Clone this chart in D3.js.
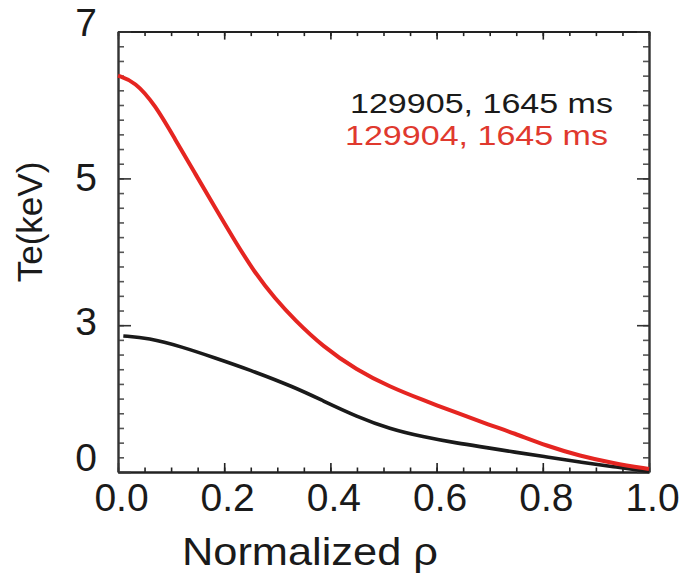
<!DOCTYPE html>
<html>
<head>
<meta charset="utf-8">
<script src="https://cdn.jsdelivr.net/npm/d3@7"></script>
<style>
  body { margin: 0; background: #fff; }
  text { font-family: "Liberation Sans", Arial, Helvetica, sans-serif; }
</style>
</head>
<body>
<div id="chart"></div>
<script>
// Te profiles
var rho_black = [0.01, 0.057, 0.12, 0.183, 0.245, 0.333, 0.385, 0.45, 0.512, 0.574, 0.638, 0.70, 0.744, 0.808, 0.87, 0.932, 1.0];
var te_black  = [2.78, 2.74, 2.56, 2.33, 2.10, 1.73, 1.46, 1.13, 0.88, 0.72, 0.59, 0.49, 0.41, 0.31, 0.20, 0.11, 0.01];

var rho_red = [0.0, 0.032, 0.07, 0.107, 0.145, 0.183, 0.22, 0.258, 0.296, 0.333, 0.385, 0.45, 0.512, 0.574, 0.638, 0.70, 0.744, 0.808, 0.87, 0.932, 1.0];
var te_red  = [6.40, 6.32, 6.00, 5.54, 5.07, 4.60, 4.15, 3.71, 3.36, 3.07, 2.57, 2.08, 1.74, 1.47, 1.21, 0.96, 0.80, 0.53, 0.33, 0.18, 0.06];

var x_ticks = [0.0, 0.2, 0.4, 0.6, 0.8, 1.0];
var y_ticks = [0, 3, 5, 7];
var legend_labels = ["129905, 1645 ms", "129904, 1645 ms"];
var x_title = "Normalized \u03c1";
var y_title = "Te(keV)";

var width = 687, height = 578;
var plot_left = 118, plot_right = 649, plot_top = 31.6, plot_bottom = 472;
var col_black = "#1a1a1a", col_red = "#e52521", col_red_text = "#e0392e";

var svg = d3.select("#chart").append("svg")
            .attr("width", width)
            .attr("height", height);

var x = d3.scaleLinear().domain([0, 1]).range([plot_left, plot_right]);
// the printed y axis is not uniform: 0-3 takes the same room as 3-5 and 5-7
var y = d3.scaleLinear().domain(y_ticks)
          .range([plot_bottom, 325.2, 178.4, plot_top]);

var x_minor = d3.range(0, 1.0001, 0.05);
var y_minor = d3.range(0, 2.95, 0.3).concat(d3.range(3, 6.95, 0.2));

function styleAxis(g, col){
	g.select(".domain").attr("stroke", col).attr("stroke-width", 2);
	g.selectAll(".tick line").attr("stroke", col).attr("stroke-width", 1.6);
	g.selectAll("text").attr("font-size", 39).attr("fill", "#1a1a1a")
	 .style("font-family", "'Liberation Sans', Arial, sans-serif");
}

function drawAxes(){
	// bottom
	svg.append("g").attr("transform", "translate(0," + plot_bottom + ")")
	   .call(d3.axisBottom(x).tickValues(x_minor).tickSize(-4.5).tickSizeOuter(0).tickFormat(""))
	   .call(styleAxis, "#222");
	svg.append("g").attr("transform", "translate(0," + plot_bottom + ")")
	   .call(d3.axisBottom(x).tickValues(x_ticks).tickSize(-9).tickSizeOuter(0).tickPadding(11).tickFormat(d3.format(".1f")))
	   .call(styleAxis, "#222")
	   .selectAll("text").attr("dx", 3);
	// top
	svg.append("g").attr("transform", "translate(0," + plot_top + ")")
	   .call(d3.axisTop(x).tickValues(x_minor).tickSize(-4.5).tickSizeOuter(0).tickFormat(""))
	   .call(styleAxis, "#222");
	svg.append("g").attr("transform", "translate(0," + plot_top + ")")
	   .call(d3.axisTop(x).tickValues(x_ticks).tickSize(-8).tickSizeOuter(0).tickFormat(""))
	   .call(styleAxis, "#222");
	// left
	svg.append("g").attr("transform", "translate(" + plot_left + ",0)")
	   .call(d3.axisLeft(y).tickValues(y_minor).tickSize(-6).tickSizeOuter(0).tickFormat(""))
	   .call(styleAxis, "#555");
	svg.append("g").attr("transform", "translate(" + plot_left + ",0)")
	   .call(d3.axisLeft(y).tickValues(y_ticks).tickSize(-13).tickSizeOuter(0).tickPadding(21).tickFormat(d3.format("d")))
	   .call(styleAxis, "#333")
	   .selectAll("text")
	   .attr("y", function(d){ return d == 7 ? -9 : (d == 0 ? -14 : (d == 3 ? -3 : 0)); });
	// right
	svg.append("g").attr("transform", "translate(" + plot_right + ",0)")
	   .call(d3.axisRight(y).tickValues(y_minor).tickSize(-6).tickSizeOuter(0).tickFormat(""))
	   .call(styleAxis, "#555");
	svg.append("g").attr("transform", "translate(" + plot_right + ",0)")
	   .call(d3.axisRight(y).tickValues(y_ticks).tickSize(-12).tickSizeOuter(0).tickFormat(""))
	   .call(styleAxis, "#333");
}

function drawCurves(){
	var line = d3.line()
	             .x(function(d){ return x(d[0]); })
	             .y(function(d){ return y(d[1]); })
	             .curve(d3.curveBasis);

	svg.append("path")
	   .datum(d3.zip(rho_black, te_black))
	   .attr("d", line)
	   .attr("fill", "none")
	   .attr("stroke", col_black)
	   .attr("stroke-width", 3.6);

	svg.append("path")
	   .datum(d3.zip(rho_red, te_red))
	   .attr("d", line)
	   .attr("fill", "none")
	   .attr("stroke", col_red)
	   .attr("stroke-width", 4);
}

function drawTexts(){
	svg.append("text")
	   .attr("x", 182).attr("y", 565)
	   .attr("font-size", 39)
	   .attr("textLength", 256).attr("lengthAdjust", "spacingAndGlyphs")
	   .attr("fill", "#1a1a1a")
	   .text(x_title);

	svg.append("text")
	   .attr("transform", "translate(42,222) rotate(-90)")
	   .attr("text-anchor", "middle")
	   .attr("font-size", 35)
	   .attr("fill", "#1a1a1a")
	   .text(y_title);

	svg.selectAll(".legend")
	   .data(legend_labels)
	   .enter()
	   .append("text")
	   .attr("class", "legend")
	   .attr("x", function(d, i){ return i == 0 ? 350 : 345; })
	   .attr("y", function(d, i){ return 113 + i * 32; })
	   .attr("font-size", 27)
	   .attr("textLength", 263).attr("lengthAdjust", "spacingAndGlyphs")
	   .attr("fill", function(d, i){ return i == 0 ? col_black : col_red_text; })
	   .text(function(d){ return d; });
}

drawAxes();
drawCurves();
drawTexts();
</script>
</body>
</html>
